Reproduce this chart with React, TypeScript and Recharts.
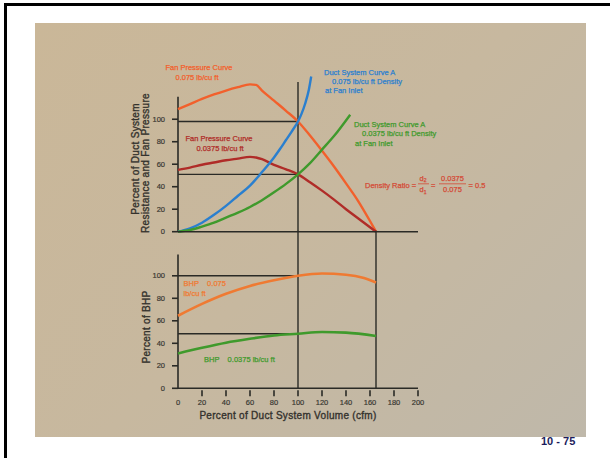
import React from 'react';
import { LineChart, Line, XAxis, YAxis, ReferenceLine } from 'recharts';

// ---- Data (percent of duct system volume -> percent values) ----
const fan075X = [0, 10, 20, 30, 40, 50, 60, 65, 70, 80, 90, 100, 110, 120, 130, 140, 150, 160, 165];
const fan075Y = [109, 113.5, 118, 122, 125.5, 128.5, 131, 130.5, 125.5, 116.5, 107.5, 98, 85.5, 72, 58, 43, 27.5, 9.5, 0];

const fan0375X = [0, 10, 20, 30, 40, 50, 60, 65, 70, 80, 90, 100, 110, 120, 130, 140, 150, 160, 165];
const fan0375Y = [55, 57, 59.5, 61.5, 63.5, 65, 66.5, 66, 64.5, 59.5, 55.5, 51, 44, 36.5, 28.5, 20, 12, 4, 0];

const duct075X = [0, 10, 20, 30, 40, 50, 60, 70, 80, 85, 90, 95, 100, 103, 106, 109, 111];
const duct075Y = [0, 3, 8, 15, 23, 32, 41, 53, 66, 73.5, 81.5, 89.5, 98, 105, 114, 126, 138];

const duct0375X = [0, 10, 20, 30, 40, 50, 60, 70, 80, 90, 100, 110, 120, 130, 143.5];
const duct0375Y = [0, 1.5, 4.5, 8, 12.5, 17, 22, 28, 35, 42.5, 51, 61, 73, 85, 104];

const bhp075X = [0, 20, 40, 60, 80, 100, 120, 140, 155, 165];
const bhp075Y = [64.5, 75, 84, 91, 96, 100, 102, 101, 98, 94];

const bhp0375X = [0, 20, 40, 60, 80, 100, 120, 140, 165];
const bhp0375Y = [31, 36, 40.5, 44, 47, 48.5, 50, 49.5, 46.5];

const yTicks = [0, 20, 40, 60, 80, 100];
const xTicks = [0, 20, 40, 60, 80, 100, 120, 140, 160, 180, 200];

const toPts = (xs: number[], ys: number[]) => xs.map((x, i) => ({ x, y: ys[i] }));

const FONT = '"Liberation Sans", Arial, Helvetica, sans-serif';
const AXIS = '#2a2a26';
const TICKTXT = '#3a3833';

const C_ORANGE = '#f2602c';
const C_DARKRED = '#b02c28';
const C_BLUE = '#2a7fcf';
const C_GREEN = '#3f9a2c';
const C_BHPORANGE = '#ef7a32';
const C_RATIO = '#d44a36';

const XTick = (props: any) => {
  const { x, y, payload } = props;
  return (
    <g>
      {payload.value > 0 && <line x1={x} y1={y - 6} x2={x} y2={y} stroke={AXIS} strokeWidth={1.6} />}
      <text x={x} y={y + 9} textAnchor="middle" fontSize={7.5} fill={TICKTXT} stroke={TICKTXT} strokeWidth={0.2} fontFamily={FONT}>
        {payload.value}
      </text>
    </g>
  );
};

const segStyle = { stroke: AXIS, strokeWidth: 1.4 };
const yTickStyle = { fontSize: 7.5, fill: TICKTXT, fontFamily: FONT, stroke: TICKTXT, strokeWidth: 0.2 };

export default function App() {
  return (
    <div style={{ position: 'absolute', left: 0, top: 0, width: 610, height: 458, background: '#ffffff', overflow: 'hidden' }}>
      {/* frame lines */}
      <div style={{ position: 'absolute', left: 4, top: 3, width: 606, height: 3, background: '#000' }} />
      <div style={{ position: 'absolute', left: 4, top: 3, width: 3, height: 455, background: '#000' }} />
      {/* beige slide */}
      <div
        style={{
          position: 'absolute', left: 35, top: 23, width: 551, height: 414,
          background: 'linear-gradient(135deg, #cab798 0%, #c7b89f 50%, #bfb8aa 100%)',
        }}
      />

      {/* Top chart: duct system resistance & fan pressure */}
      <div style={{ position: 'absolute', left: 0, top: 0 }}>
        <LineChart width={610} height={458} margin={{ top: 63, right: 192, left: 120, bottom: 216.3 }}>
          <XAxis dataKey="x" type="number" domain={[0, 200]} tick={false} tickLine={false} height={10}
            axisLine={{ stroke: AXIS, strokeWidth: 1.6 }} />
          <YAxis dataKey="y" type="number" domain={[0, 150]} ticks={yTicks} width={58} axisLine={false}
            tickSize={6} tickMargin={7} tickLine={{ stroke: AXIS, strokeWidth: 1.6 }}
            tick={yTickStyle} />
          <ReferenceLine segment={[{ x: 0, y: 0 }, { x: 0, y: 120 }]} {...segStyle} strokeWidth={1.6} />
          <ReferenceLine segment={[{ x: 0, y: 98 }, { x: 100, y: 98 }]} {...segStyle} />
          <ReferenceLine segment={[{ x: 0, y: 51 }, { x: 100, y: 51 }]} {...segStyle} />
          <ReferenceLine segment={[{ x: 100, y: 0 }, { x: 100, y: 133 }]} {...segStyle} />
          <Line data={toPts(fan075X, fan075Y)} dataKey="y" type="monotone" stroke={C_ORANGE} strokeWidth={2.4} dot={false} isAnimationActive={false} />
          <Line data={toPts(fan0375X, fan0375Y)} dataKey="y" type="monotone" stroke={C_DARKRED} strokeWidth={2.4} dot={false} isAnimationActive={false} />
          <Line data={toPts(duct075X, duct075Y)} dataKey="y" type="monotone" stroke={C_BLUE} strokeWidth={2.4} dot={false} isAnimationActive={false} />
          <Line data={toPts(duct0375X, duct0375Y)} dataKey="y" type="monotone" stroke={C_GREEN} strokeWidth={2.4} dot={false} isAnimationActive={false} />
        </LineChart>
      </div>

      {/* Bottom chart: BHP */}
      <div style={{ position: 'absolute', left: 0, top: 0 }}>
        <LineChart width={610} height={458} margin={{ top: 230.8, right: 192, left: 120, bottom: 39.7 }}>
          <XAxis dataKey="x" type="number" domain={[0, 200]} ticks={xTicks} height={30} tickLine={false}
            tick={<XTick />} axisLine={{ stroke: AXIS, strokeWidth: 1.6 }} interval={0} />
          <YAxis dataKey="y" type="number" domain={[0, 140]} ticks={yTicks} width={58} axisLine={false}
            tickSize={6} tickMargin={7} tickLine={{ stroke: AXIS, strokeWidth: 1.6 }}
            tick={yTickStyle} />
          <ReferenceLine segment={[{ x: 0, y: 0 }, { x: 0, y: 119 }]} {...segStyle} strokeWidth={1.6} />
          <ReferenceLine segment={[{ x: 0, y: 100 }, { x: 100, y: 100 }]} {...segStyle} />
          <ReferenceLine segment={[{ x: 0, y: 48.5 }, { x: 100, y: 48.5 }]} {...segStyle} />
          <ReferenceLine segment={[{ x: 100, y: 0 }, { x: 100, y: 140 }]} {...segStyle} />
          <ReferenceLine segment={[{ x: 165, y: 0 }, { x: 165, y: 140 }]} {...segStyle} />
          <Line data={toPts(bhp075X, bhp075Y)} dataKey="y" type="monotone" stroke={C_BHPORANGE} strokeWidth={2.6} dot={false} isAnimationActive={false} />
          <Line data={toPts(bhp0375X, bhp0375Y)} dataKey="y" type="monotone" stroke={C_GREEN} strokeWidth={2.6} dot={false} isAnimationActive={false} />
        </LineChart>
      </div>

      {/* Annotations */}
      <svg width={610} height={458} style={{ position: 'absolute', left: 0, top: 0 }} fontFamily={FONT}>
        <g fontSize={7.5} dominantBaseline="central" strokeWidth={0.25}>
          <text x={199} y={67} textAnchor="middle" fill={C_ORANGE} stroke={C_ORANGE}>Fan Pressure Curve</text>
          <text x={197} y={77} textAnchor="middle" fill={C_ORANGE} stroke={C_ORANGE}>0.075 lb/cu ft</text>

          <text x={324} y={72} fill={C_BLUE} stroke={C_BLUE}>Duct System Curve A</text>
          <text x={332} y={81} fill={C_BLUE} stroke={C_BLUE}>0.075 lb/cu ft Density</text>
          <text x={325} y={90} fill={C_BLUE} stroke={C_BLUE}>at Fan Inlet</text>

          <text x={354} y={124} fill={C_GREEN} stroke={C_GREEN}>Duct System Curve A</text>
          <text x={362} y={133.5} fill={C_GREEN} stroke={C_GREEN}>0.0375 lb/cu ft Density</text>
          <text x={355} y={143} fill={C_GREEN} stroke={C_GREEN}>at Fan Inlet</text>

          <text x={219} y={138.5} textAnchor="middle" fill={C_DARKRED} stroke={C_DARKRED}>Fan Pressure Curve</text>
          <text x={220} y={148.5} textAnchor="middle" fill={C_DARKRED} stroke={C_DARKRED}>0.0375 lb/cu ft</text>

          <g fill={C_RATIO} stroke={C_RATIO}>
            <text x={365} y={185}>Density Ratio =</text>
            <text x={423} y={178} textAnchor="middle">d<tspan fontSize={5} dy={2}>2</tspan></text>
            <line x1={418} y1={183.8} x2={429} y2={183.8} stroke={C_RATIO} strokeWidth={0.8} />
            <text x={423} y={189.5} textAnchor="middle">d<tspan fontSize={5} dy={2}>1</tspan></text>
            <text x={431} y={185}>=</text>
            <text x={452.5} y={178} textAnchor="middle">0.0375</text>
            <line x1={439} y1={183.8} x2={466} y2={183.8} stroke={C_RATIO} strokeWidth={0.8} />
            <text x={452.5} y={189.5} textAnchor="middle">0.075</text>
            <text x={468.5} y={185}>= 0.5</text>
          </g>

          <text x={183.5} y={283.5} fill={C_BHPORANGE} stroke={C_BHPORANGE} xmlSpace="preserve">BHP    0.075</text>
          <text x={183.5} y={293.5} fill={C_BHPORANGE} stroke={C_BHPORANGE}>lb/cu ft</text>
          <text x={204} y={359.5} fill={C_GREEN} stroke={C_GREEN} xmlSpace="preserve">BHP    0.0375 lb/cu ft</text>
        </g>

        <g fontSize={10} fill="#34322d" stroke="#34322d" strokeWidth={0.35} textAnchor="middle" dominantBaseline="central" letterSpacing={0.3}>
          <text transform="translate(135,159) rotate(-90)">Percent of Duct System</text>
          <text transform="translate(145.5,163) rotate(-90)">Resistance and Fan Pressure</text>
          <text transform="translate(146,327) rotate(-90)">Percent of BHP</text>
          <text x={288} y={415.5}>Percent of Duct System Volume (cfm)</text>
        </g>
      </svg>

      <div
        style={{
          position: 'absolute', left: 541, top: 434, fontFamily: FONT, fontWeight: 'bold',
          fontSize: 11, color: '#1c1c5c', lineHeight: '14px', whiteSpace: 'nowrap',
        }}
      >
        10 - 75
      </div>
    </div>
  );
}
